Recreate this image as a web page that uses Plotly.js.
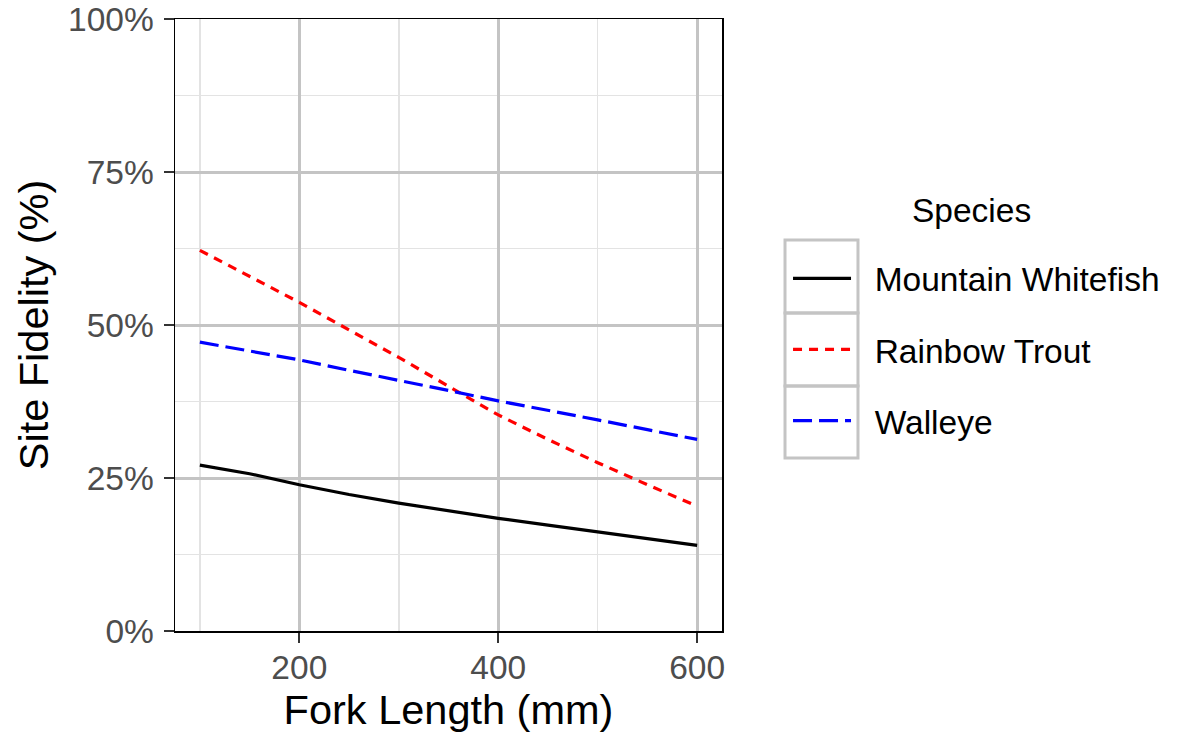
<!DOCTYPE html>
<html>
<head>
<meta charset="utf-8">
<script src="https://cdn.plot.ly/plotly-3.0.1.min.js"></script>
<style>html,body{margin:0;padding:0;background:#fff;}#chart{width:1200px;height:750px;}</style>
</head>
<body>
<div id="chart"></div>
<script>
const forkLength = [100, 150, 200, 250, 300, 350, 400, 450, 500, 550, 600];
const whitefish  = [0.271, 0.257, 0.239, 0.223, 0.209, 0.196, 0.184, 0.173, 0.162, 0.151, 0.140];
const rainbow    = [0.622, 0.580, 0.537, 0.492, 0.447, 0.400, 0.353, 0.313, 0.275, 0.239, 0.204];
const walleye    = [0.472, 0.458, 0.443, 0.426, 0.410, 0.393, 0.376, 0.361, 0.345, 0.329, 0.313];
const speciesNames = ["Mountain Whitefish", "Rainbow Trout", "Walleye"];
const legendTitle = "Species";
const xTicks = [200, 400, 600];
const yTicks = [0, 0.25, 0.5, 0.75, 1];

const FONT = "Liberation Sans, Arial, Helvetica, sans-serif";
const series = [whitefish, rainbow, walleye];
const colors = ["#000000", "#FF0000", "#0000FF"];
const dashes = ["solid", "9px,7px", "19px,7px"];
const PAD = "\u00A0\u00A0";

const traces = series.map((ys, i) => ({
  type: "scatter", mode: "lines",
  x: forkLength, y: ys, name: PAD + speciesNames[i],
  legendgroup: "g" + i,
  line: {color: colors[i], width: 3.2, dash: dashes[i]},
  hoverinfo: "skip"
}));

// legend key boxes (ggplot-style grey key backgrounds), in paper coordinates
const keyBoxes = [[0.6389, 0.5196], [0.5196, 0.4003], [0.4003, 0.2827]].map(([y1, y0]) => ({
  type: "rect", xref: "paper", yref: "paper",
  x0: 1.1152, x1: 1.2486, y0: y0, y1: y1,
  line: {color: "#C4C4C4", width: 3}, fillcolor: "rgba(0,0,0,0)", layer: "below"
}));

const layout = {
  width: 1200, height: 750,
  margin: {l: 175, r: 478, t: 19, b: 119},
  paper_bgcolor: "#fff", plot_bgcolor: "#fff",
  font: {family: FONT, color: "#000"},
  showlegend: true,
  shapes: keyBoxes,
  annotations: [{
    text: legendTitle, xref: "paper", yref: "paper", x: 1.457, y: 0.6863,
    xanchor: "center", yanchor: "middle", showarrow: false,
    font: {size: 33.5, color: "#000", family: FONT}
  }],
  xaxis: {
    range: [75, 625], tickvals: xTicks, ticktext: xTicks.map(String),
    ticks: "outside", ticklen: 10, tickwidth: 2, tickcolor: "#333333",
    tickfont: {size: 33.5, color: "#4D4D4D", family: FONT},
    ticklabelstandoff: -4,
    showgrid: true, gridcolor: "#C4C4C4", gridwidth: 3,
    minor: {dtick: 100, tick0: 100, showgrid: true, gridcolor: "#E3E3E3", gridwidth: 1.5, ticks: ""},
    showline: true, linecolor: "#000", linewidth: 1.5, mirror: true,
    zeroline: false,
    title: {text: "Fork Length (mm)", font: {size: 41.5, color: "#000", family: FONT}, standoff: 2}
  },
  yaxis: {
    range: [0, 1], tickvals: yTicks, tickformat: ".0%",
    ticks: "outside", ticklen: 10, tickwidth: 2, tickcolor: "#333333",
    tickfont: {size: 33.5, color: "#4D4D4D", family: FONT},
    ticklabelstandoff: 3,
    showgrid: true, gridcolor: "#C4C4C4", gridwidth: 3,
    minor: {dtick: 0.125, tick0: 0, showgrid: true, gridcolor: "#E3E3E3", gridwidth: 1.5, ticks: ""},
    showline: true, linecolor: "#000", linewidth: 1.5, mirror: true,
    zeroline: false,
    title: {text: "Site Fidelity (%)", font: {size: 41.5, color: "#000", family: FONT}, standoff: 6}
  },
  legend: {
    x: 1.1207, xanchor: "left", y: 0.6225, yanchor: "top",
    font: {size: 33.5, color: "#000", family: FONT},
    itemwidth: 58, tracegroupgap: 24.6,
    bgcolor: "rgba(0,0,0,0)", borderwidth: 0
  }
};

Plotly.newPlot("chart", traces, layout, {displayModeBar: false, staticPlot: true});
</script>
</body>
</html>
